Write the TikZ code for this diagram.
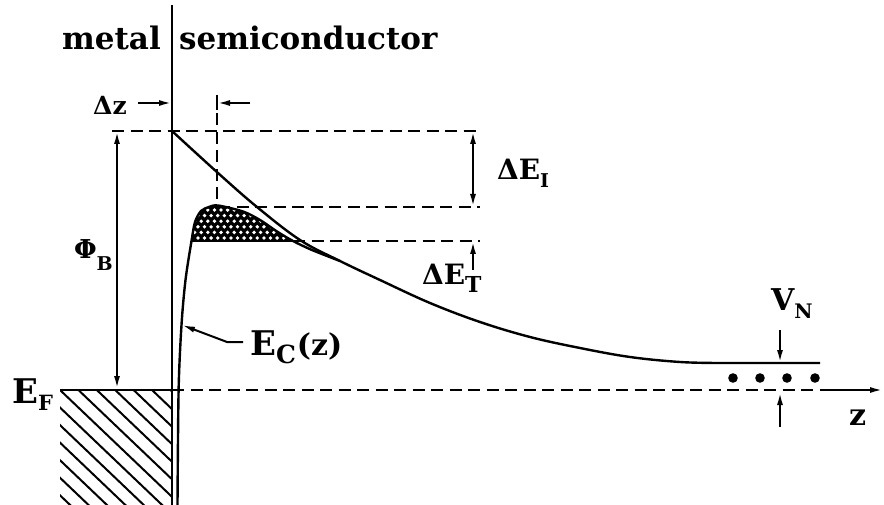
\documentclass[tikz,border=0pt]{standalone}
\usepackage{fontspec}
\setmainfont{DejaVu Serif}
\usetikzlibrary{arrows.meta}
\newcommand{\dn}[3]{\raisebox{-#1pt}{\fontsize{#2}{#2}\selectfont #3}}
\newcommand{\fs}[1]{\fontsize{#1}{#1}\selectfont\bfseries}
\begin{document}
\begin{tikzpicture}[x=1pt,y=-1pt,line width=2.2pt,
  lbl/.style={inner sep=0pt,anchor=base west},
  dsh/.style={line width=2.1pt,dash pattern=on 12pt off 6.5pt},
  tipr/.style={-{Latex[length=13pt,width=6pt]}},
  tipb/.style={{Latex[length=13pt,width=6pt]}-{Latex[length=13pt,width=6pt]}}]
\useasboundingbox (0,0) rectangle (884,505);

% key points
\coordinate (iftop) at (172,5);
\coordinate (ifbot) at (172,505);
\coordinate (phT) at (117,131);
\coordinate (phB) at (117,389);
\coordinate (topL) at (112,131);
\coordinate (topR) at (480,131);
\coordinate (pkL) at (218,207);
\coordinate (pkR) at (480,207);
\coordinate (loL) at (293,241);
\coordinate (loR) at (480,241);
\coordinate (dvT) at (217,95);
\coordinate (dvB) at (217,205);
\coordinate (eiT) at (473,131);
\coordinate (eiB) at (473,207);
\coordinate (etT) at (473,241);
\coordinate (etB) at (473,270);
\coordinate (dzA) at (138,103);
\coordinate (dzB) at (172,103);
\coordinate (dzC) at (250,103);
\coordinate (dzD) at (217,103);
\coordinate (efL) at (60,390);
\coordinate (efM) at (172,390);
\coordinate (efD) at (820,390);
\coordinate (efR) at (883,390);
\coordinate (cbE) at (720,363);
\coordinate (cbR) at (820,363);
\coordinate (vnT) at (780,330);
\coordinate (vnC) at (780,363);
\coordinate (vnB) at (780,427);
\coordinate (vnF) at (780,392);
\coordinate (ecK) at (227,342);
\coordinate (ecP) at (182,325);

% interface
\draw (iftop) -- (ifbot);

% metal hatch
\begin{scope}
  \clip (60,390) rectangle (172,505);
  \foreach \k in {-7,...,6}
    \draw[line width=2pt] ({60+18.4*\k},390) -- ++(130,124);
\end{scope}

% dashed levels
\draw[dsh] (topL) -- (topR);
\draw[dsh] (pkL) -- (pkR);
\draw[dsh] (loL) -- (loR);
\draw[dsh] (dvT) -- (dvB);
\draw[dsh] (efM) -- (efD);
\draw (efL) -- (efM);
\draw[tipr] (efD) -- (efR);

% barrier without image force
\draw[line width=2.4pt] plot[smooth,tension=0.6] coordinates {(172,131) (218,173) (257,207) (300,240) (340,261) (380,280) (430,303) (480,322) (530,337) (580,348) (630,357) (680,362) (cbE)} -- (cbR);

% hatched tunnelling region
\begin{scope}
  \clip plot[smooth,tension=0.6] coordinates {(191.5,241) (194,225) (199,213) (207,207.5) (218,205.5) (243,211.5) (260,220) (277,231.5) (293,241)} -- cycle;
  \fill plot[smooth,tension=0.6] coordinates {(191.5,241) (194,225) (199,213) (207,207.5) (218,205.5) (243,211.5) (260,220) (277,231.5) (293,241)} -- cycle;
  \foreach \r in {0,...,6}
    \foreach \c in {0,...,17}
      \fill[white] ({188+6.6*\c+3.3*mod(\r,2)},{210+5.6*\r}) circle (1.9);
\end{scope}
\draw[line width=2pt] (191.5,241) -- (293,241);

% barrier with image force
\draw[line width=2.4pt] plot[smooth,tension=0.5] coordinates {(177.5,505) (178.6,390) (181.5,325) (185.5,280) (191.5,241) (195,222) (201,211) (209,207) (218,205.5) (243,211.5) (260,220) (277,231.5) (293,241) (312,250) (340,261)};

% arrows
\draw[tipb] (phT) -- (phB);
\draw[line width=2pt] (112,131) -- (122,131);
\draw[tipb] (eiT) -- (eiB);
\draw[tipr] (etB) -- (etT);
\draw[tipr] (dzA) -- (dzB);
\draw[tipr] (dzC) -- (dzD);
\draw[line width=2pt] (217,95) -- (217,110);
\draw[tipr] (vnT) -- (vnC);
\draw[tipr] (vnB) -- (vnF);
\draw[tipr,line width=2pt] (243,342) -- (ecK) -- (ecP);

% donor dots
\foreach \x [count=\i] in {733,760,787,815}
  \fill (\x,378) circle (4.8) coordinate (dot\i);

% labels
\node[lbl,font=\fs{31}] (metal) at (61,50) {metal};
\node[lbl,font=\fs{31}] (semi) at (178,50) {semiconductor};
\node[lbl,font=\fs{25}] (dz) at (92,115) {Δz};
\node[lbl,font=\fs{26}] (phi) at (73,259) {Φ\dn{12}{19}{B}};
\node[lbl,font=\fs{34}] (ef) at (11,403) {E\dn{7}{21}{F}};
\node[lbl,font=\fs{34}] (ec) at (249,355) {E\dn{8}{25}{C}\kern1pt{\fs{30}(z)}};
\node[lbl,font=\fs{28}] (dei) at (496,180) {ΔE\dn{8}{19}{I}};
\node[lbl,font=\fs{28}] (det) at (421,285) {ΔE\dn{8}{22}{T}};
\node[lbl,font=\fs{30}] (vn) at (770,310) {V\dn{8}{20}{N}};
\node[lbl,font=\fs{30}] (zz) at (848,425) {z};
\end{tikzpicture}
\end{document}
